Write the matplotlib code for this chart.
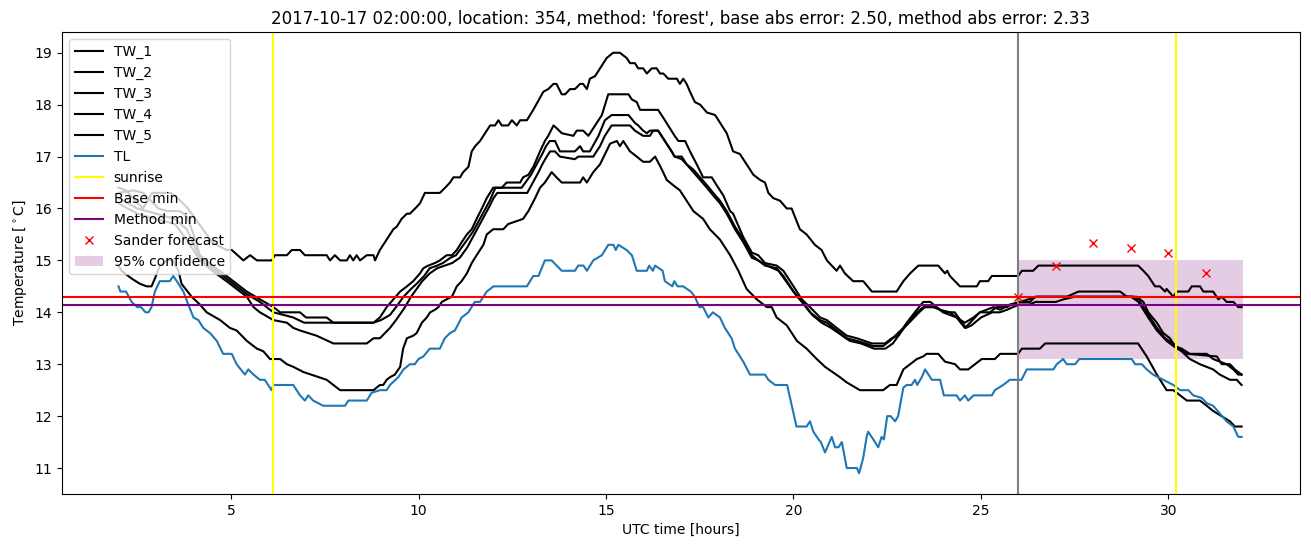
import numpy as np
import matplotlib
matplotlib.use('Agg')
import matplotlib.pyplot as plt

# (hour, temperature) pairs
tw_1 = [(2.0,16.4),(2.2,16.35),(2.45,16.15),(2.65,16.0),(2.9,16.3),(3.4,16.3),(3.65,16.15),(3.85,16.0),
        (4.15,15.7),(4.5,15.35),(4.88,15.2),(5.02,15.2),(5.33,15.0),(5.51,15.1),(5.69,15.0),(6.09,15.0),
        (6.17,15.1),(6.49,15.1),(6.62,15.2),(6.84,15.2),(6.97,15.1),(7.55,15.1),(7.64,15.0),(7.77,15.1),
        (7.91,15.0),(8.09,15.0),(8.17,15.1),(8.26,15.0),(8.35,15.1),(8.44,15.0),(8.62,15.1),(8.8,15.1),
        (8.84,15.0),(8.97,15.2),(9.15,15.4),(9.33,15.6),(9.42,15.65),(9.55,15.8),(9.69,15.9),(9.77,15.9),
        (9.91,16.0),(10.04,16.1),(10.17,16.3),(10.57,16.3),(10.71,16.4),(10.84,16.5),(10.93,16.6),(11.11,16.6),
        (11.19,16.7),(11.33,16.8),(11.42,17.1),(11.51,17.2),(11.64,17.3),(11.82,17.5),(11.91,17.6),(12.04,17.6),
        (12.13,17.7),(12.22,17.6),(12.39,17.6),(12.49,17.7),(12.62,17.6),(12.71,17.7),(12.89,17.7),(13.06,17.9),
        (13.33,18.25),(13.46,18.3),(13.6,18.4),(13.68,18.4),(13.82,18.2),(13.91,18.2),(14.04,18.3),(14.17,18.3),
        (14.31,18.4),(14.39,18.4),(14.49,18.3),(14.57,18.5),(14.71,18.55),(14.84,18.7),(14.93,18.8),(15.02,18.9),
        (15.19,19.0),(15.37,19.0),(15.55,18.9),(15.64,18.8),(15.77,18.8),(15.86,18.7),(15.99,18.7),(16.09,18.6),
        (16.22,18.7),(16.35,18.7),(16.44,18.6),(16.53,18.6),(16.66,18.5),(16.89,18.5),(16.97,18.4),(17.06,18.5),
        (17.15,18.4),(17.24,18.25),(17.37,18.05),(17.51,18.0),(17.69,17.85),(17.91,17.8),(18.22,17.45),(18.39,17.1),
        (18.57,17.05),(18.93,16.65),(19.11,16.55),(19.24,16.5),(19.33,16.3),(19.46,16.2),(19.64,16.15),(19.82,16.0),
        (19.95,16.0),(20.17,15.6),(20.35,15.5),(20.57,15.3),(20.75,15.2),(20.89,15.0),(21.15,14.8),(21.24,14.9),
        (21.37,14.75),(21.59,14.6),(21.86,14.6),(22.09,14.4),(22.75,14.4),(22.93,14.6),(23.11,14.75),(23.33,14.9),
        (23.86,14.9),(24.04,14.75),(24.1,14.8),(24.17,14.7),(24.44,14.5),(24.89,14.5),(24.97,14.6),(25.19,14.6),
        (25.29,14.7),(25.99,14.7),(26.09,14.8),(26.39,14.8),(26.53,14.9),(29.19,14.9),(29.33,14.8),(29.46,14.7),
        (29.64,14.5),(29.77,14.5),(29.91,14.4),(29.95,14.45),(30.13,14.3),(30.22,14.4),(30.53,14.4),(30.62,14.5),
        (30.84,14.5),(30.93,14.4),(31.19,14.4),(31.33,14.25),(31.42,14.3),(31.55,14.2),(31.73,14.2),(31.86,14.1),
        (31.95,14.1)]

tw_2 = [(2.0,16.3),(2.4,16.35),(2.66,16.3),(2.93,16.1),(3.06,16.0),(3.3,15.95),(3.64,15.95),(3.82,15.85),
        (4.0,15.5),(4.17,15.1),(4.5,14.9),(4.88,14.7),(5.15,14.55),(5.42,14.4),(5.77,14.25),(6.13,14.1),
        (6.31,14.0),(6.84,14.0),(7.0,13.9),(7.55,13.9),(7.73,13.8),(8.8,13.8),(8.97,13.9),(9.15,14.1),
        (9.33,14.25),(9.51,14.4),(9.69,14.5),(9.86,14.6),(10.04,14.75),(10.13,14.85),(10.26,14.9),(10.44,14.95),
        (10.57,15.0),(10.75,15.1),(10.89,15.1),(11.02,15.2),(11.15,15.35),(11.29,15.5),(11.42,15.6),(11.55,15.8),
        (11.69,16.0),(11.82,16.2),(11.99,16.4),(12.22,16.4),(12.35,16.5),(12.71,16.5),(12.79,16.6),(12.93,16.65),
        (13.06,16.8),(13.15,16.95),(13.24,17.1),(13.37,17.3),(13.46,17.4),(13.6,17.6),(13.68,17.55),(13.82,17.45),
        (14.13,17.4),(14.22,17.5),(14.39,17.5),(14.53,17.4),(14.71,17.6),(14.89,17.8),(15.06,18.2),(15.6,18.2),
        (15.69,18.1),(15.82,18.05),(15.91,17.9),(16.39,17.9),(16.57,17.7),(16.83,17.4),(16.93,17.3),(17.11,17.3),
        (17.24,17.1),(17.42,16.85),(17.59,16.6),(17.82,16.6),(17.95,16.45),(18.13,16.25),(18.31,15.95),(18.39,15.9),
        (18.66,15.45),(18.89,15.15),(19.06,15.1),(19.24,14.95),(19.55,14.9),(19.73,14.8),(20.0,14.5),(20.22,14.25),
        (20.44,14.1),(20.71,13.9),(20.89,13.85),(21.24,13.65),(21.42,13.55),(21.69,13.5),(22.09,13.4),(22.44,13.4),
        (22.62,13.5),(22.79,13.55),(23.02,13.8),(23.29,14.05),(23.46,14.2),(23.65,14.2),(23.82,14.1),(23.99,14.0),
        (24.35,13.9),(24.57,13.8),(24.8,13.9),(24.97,14.0),(25.33,14.1),(25.51,14.05),(25.77,14.15),(26.04,14.2),
        (26.31,14.2),(26.44,14.3),(27.29,14.3),(27.6,14.4),(28.71,14.4),(28.89,14.3),(29.15,14.3),(29.33,14.2),
        (29.46,14.0),(29.69,13.8),(29.86,13.6),(30.04,13.5),(30.17,13.35),(30.35,13.3),(30.57,13.2),(31.02,13.2),
        (31.19,13.1),(31.55,13.0),(31.73,12.9),(31.86,12.8),(31.95,12.8)]

tw_3 = [(2.0,16.2),(2.5,16.0),(3.0,15.9),(3.5,15.8),(3.82,15.6),(4.17,15.05),(4.5,14.85),(4.88,14.65),
        (5.15,14.5),(5.42,14.35),(5.77,14.2),(6.13,14.0),(6.4,13.95),(6.66,13.9),(6.95,13.8),(8.8,13.8),
        (9.0,13.85),(9.24,13.95),(9.4,14.1),(9.6,14.3),(9.8,14.45),(9.95,14.55),(10.15,14.7),(10.3,14.85),
        (10.5,14.9),(10.65,14.95),(10.85,15.05),(11.0,15.1),(11.1,15.2),(11.3,15.4),(11.45,15.55),(11.6,15.75),
        (11.75,15.95),(11.9,16.15),(12.05,16.4),(12.75,16.4),(12.85,16.5),(13.0,16.65),(13.15,16.85),(13.3,17.05),
        (13.4,17.2),(13.5,17.3),(13.64,17.3),(13.77,17.1),(14.17,17.1),(14.31,17.2),(14.39,17.1),(14.57,17.1),
        (14.8,17.4),(14.97,17.7),(15.15,17.8),(15.6,17.8),(15.77,17.65),(15.86,17.6),(15.99,17.5),(16.09,17.45),
        (16.17,17.5),(16.39,17.5),(16.57,17.3),(16.75,17.1),(16.83,17.0),(17.02,17.0),(17.15,16.85),(17.33,16.75),
        (17.51,16.6),(17.69,16.45),(17.86,16.3),(18.04,16.15),(18.22,15.95),(18.44,15.65),(18.66,15.4),(18.89,15.1),
        (19.06,15.0),(19.24,14.9),(19.55,14.85),(19.73,14.7),(20.0,14.4),(20.22,14.2),(20.44,14.0),(20.71,13.85),
        (20.89,13.8),(21.24,13.6),(21.42,13.5),(21.69,13.45),(22.13,13.35),(22.39,13.35),(22.57,13.45),(22.93,13.7),
        (23.29,14.0),(23.46,14.1),(23.73,14.1),(23.91,14.05),(24.17,14.0),(24.35,13.9),(24.57,13.7),(24.71,13.8),
        (24.97,14.0),(25.24,14.0),(25.41,14.1),(25.69,14.1),(25.82,14.15),(26.04,14.2),(26.5,14.3),(29.06,14.3),
        (29.24,14.2),(29.42,14.0),(29.69,13.7),(29.91,13.5),(30.13,13.4),(30.26,13.3),(30.49,13.2),(31.29,13.15),
        (31.42,13.0),(31.64,13.0),(31.77,12.9),(31.95,12.8)]

tw_4 = [(2.0,16.1),(2.5,15.9),(3.0,15.8),(3.5,15.7),(3.82,15.4),(4.17,15.0),(4.5,14.8),(4.88,14.6),
        (5.15,14.45),(5.42,14.3),(5.6,14.1),(5.77,14.0),(6.13,13.85),(6.49,13.8),(6.66,13.7),(6.84,13.65),
        (7.28,13.55),(7.73,13.4),(8.62,13.4),(8.8,13.5),(8.97,13.5),(9.24,13.7),(9.4,13.85),(9.64,14.1),
        (9.8,14.3),(9.95,14.45),(10.1,14.6),(10.3,14.75),(10.5,14.85),(10.7,14.9),(10.9,14.95),(11.1,15.05),
        (11.3,15.25),(11.45,15.45),(11.6,15.65),(11.75,15.85),(11.9,16.05),(12.0,16.2),(12.1,16.3),(12.9,16.3),
        (13.05,16.5),(13.2,16.7),(13.3,16.85),(13.42,17.0),(13.51,17.1),(13.64,17.1),(13.77,17.0),(14.17,16.95),
        (14.26,17.0),(14.66,17.0),(14.84,17.2),(14.97,17.4),(15.15,17.6),(15.64,17.6),(15.77,17.5),(15.99,17.4),
        (16.17,17.4),(16.26,17.5),(16.39,17.5),(16.57,17.3),(16.75,17.1),(16.83,17.0),(17.02,16.95),(17.15,16.85),
        (17.33,16.7),(17.51,16.55),(17.69,16.4),(17.86,16.25),(18.04,16.1),(18.22,15.9),(18.44,15.6),(18.66,15.35),
        (18.89,15.05),(19.06,15.0),(19.3,14.9),(19.6,14.8),(19.8,14.6),(20.05,14.35),(20.3,14.15),(20.5,13.95),
        (20.75,13.8),(21.0,13.7),(21.3,13.55),(21.5,13.45),(21.8,13.4),(22.15,13.3),(22.45,13.3),(22.65,13.4),
        (22.95,13.7),(23.35,14.0),(23.5,14.1),(23.8,14.1),(24.0,14.0),(24.3,14.0),(24.4,13.9),(24.6,13.7),
        (24.75,13.75),(25.0,13.9),(25.3,14.0),(25.5,14.0),(25.7,14.05),(25.85,14.1),(26.04,14.15),(26.3,14.15),
        (26.45,14.2),(27.0,14.2),(27.2,14.25),(27.5,14.3),(29.0,14.3),(29.2,14.2),(29.46,13.9),(29.69,13.65),
        (29.95,13.45),(30.13,13.35),(30.35,13.25),(30.57,13.1),(30.84,13.0),(31.19,12.9),(31.37,12.8),(31.64,12.7),
        (31.82,12.7),(31.95,12.6)]

tw_5 = [(2.0,14.9),(2.08,14.8),(2.35,14.65),(2.57,14.55),(2.75,14.5),(2.88,14.5),(2.97,14.65),(3.1,14.9),
        (3.3,15.0),(3.45,15.0),(3.6,14.8),(3.68,14.55),(3.95,14.3),(4.17,14.15),(4.35,14.0),(4.71,13.85),
        (4.97,13.7),(5.15,13.65),(5.42,13.45),(5.69,13.3),(5.86,13.25),(6.04,13.1),(6.31,13.1),(6.49,13.0),
        (6.66,12.95),(6.93,12.85),(7.55,12.7),(7.91,12.5),(8.8,12.5),(8.97,12.6),(9.06,12.6),(9.15,12.7),
        (9.24,12.75),(9.37,12.8),(9.51,12.95),(9.59,13.3),(9.69,13.5),(9.86,13.55),(9.95,13.6),(10.09,13.8),
        (10.22,13.9),(10.31,14.0),(10.44,14.05),(10.53,14.1),(10.62,14.2),(10.75,14.25),(10.89,14.3),(11.02,14.5),
        (11.15,14.6),(11.29,14.75),(11.42,14.95),(11.55,15.1),(11.73,15.3),(11.82,15.5),(11.99,15.6),(12.26,15.6),
        (12.39,15.7),(12.79,15.8),(12.93,15.95),(13.11,16.2),(13.24,16.4),(13.37,16.5),(13.55,16.7),(13.68,16.6),
        (13.82,16.5),(14.31,16.5),(14.39,16.6),(14.49,16.5),(14.66,16.7),(14.84,16.85),(15.11,17.25),(15.29,17.3),
        (15.37,17.2),(15.46,17.3),(15.64,17.1),(15.82,17.0),(15.99,16.9),(16.17,16.9),(16.31,17.0),(16.49,16.75),
        (16.62,16.55),(16.79,16.45),(16.97,16.35),(17.15,16.15),(17.33,15.95),(17.59,15.8),(17.77,15.6),(18.04,15.4),
        (18.31,15.1),(18.53,14.8),(18.75,14.45),(19.02,14.25),(19.29,14.1),(19.42,14.1),(19.55,13.9),(19.82,13.75),
        (20.09,13.45),(20.35,13.3),(20.62,13.1),(20.84,12.95),(21.24,12.75),(21.42,12.65),(21.77,12.5),(22.39,12.5),
        (22.57,12.6),(22.75,12.6),(22.93,12.9),(23.11,13.0),(23.29,13.1),(23.46,13.15),(23.55,13.2),(23.86,13.2),
        (24.04,13.05),(24.31,13.0),(24.44,12.9),(24.66,12.9),(24.84,13.0),(25.02,13.1),(25.37,13.1),(25.51,13.2),
        (25.99,13.2),(26.09,13.3),(26.57,13.3),(26.71,13.4),(29.19,13.4),(29.42,13.15),(29.69,12.8),(29.95,12.5),
        (30.13,12.5),(30.49,12.3),(30.84,12.3),(31.02,12.2),(31.19,12.1),(31.64,11.9),(31.77,11.8),(31.95,11.8)]

tl = [(2.0,14.5),(2.05,14.4),(2.2,14.4),(2.35,14.2),(2.5,14.1),(2.6,14.1),(2.72,14.0),(2.8,14.0),
      (2.88,14.1),(2.97,14.4),(3.1,14.6),(3.37,14.6),(3.46,14.7),(3.6,14.55),(3.73,14.4),(3.86,14.15),
      (4.0,13.9),(4.13,13.85),(4.26,13.7),(4.44,13.6),(4.62,13.45),(4.79,13.2),(5.02,13.2),(5.15,13.0),
      (5.37,12.8),(5.46,12.9),(5.6,12.8),(5.77,12.7),(5.9,12.7),(6.08,12.5),(6.13,12.6),(6.66,12.6),
      (6.84,12.4),(6.97,12.3),(7.06,12.4),(7.19,12.3),(7.46,12.2),(8.04,12.2),(8.13,12.3),(8.62,12.3),
      (8.75,12.45),(8.97,12.5),(9.15,12.5),(9.24,12.6),(9.46,12.75),(9.6,12.9),(9.77,13.0),(9.9,13.0),
      (10.0,13.1),(10.13,13.15),(10.3,13.3),(10.57,13.3),(10.7,13.5),(10.84,13.6),(10.97,13.65),(11.15,13.9),
      (11.33,14.0),(11.5,14.2),(11.64,14.2),(11.82,14.4),(12.0,14.5),(12.89,14.5),(13.06,14.7),(13.2,14.7),
      (13.37,15.0),(13.55,15.0),(13.82,14.8),(14.17,14.8),(14.26,14.9),(14.4,14.9),(14.49,14.8),(14.66,15.0),
      (14.89,15.1),(15.06,15.3),(15.2,15.3),(15.26,15.2),(15.33,15.3),(15.55,15.2),(15.69,15.1),(15.82,14.8),
      (16.09,14.8),(16.15,14.9),(16.25,14.8),(16.31,14.9),(16.51,14.8),(16.57,14.6),(16.77,14.5),(16.82,14.6),
      (16.91,14.5),(17.06,14.5),(17.26,14.4),(17.37,14.3),(17.49,14.1),(17.59,14.1),(17.73,13.9),(17.85,14.0),
      (18.04,13.9),(18.17,13.7),(18.35,13.5),(18.44,13.3),(18.66,13.05),(18.84,12.8),(19.24,12.8),(19.33,12.7),
      (19.51,12.6),(19.83,12.6),(20.08,11.8),(20.35,11.8),(20.44,11.9),(20.53,11.7),(20.67,11.55),(20.73,11.5),
      (20.84,11.3),(21.02,11.6),(21.11,11.4),(21.2,11.4),(21.29,11.5),(21.42,11.0),(21.69,11.0),(21.75,10.9),
      (21.86,11.2),(21.95,11.6),(21.99,11.7),(22.13,11.55),(22.26,11.4),(22.35,11.6),(22.41,11.55),(22.5,12.0),
      (22.59,12.0),(22.71,11.9),(22.79,12.0),(22.93,12.55),(23.02,12.6),(23.15,12.6),(23.24,12.7),(23.3,12.6),
      (23.42,12.75),(23.51,12.9),(23.69,12.7),(23.91,12.7),(24.01,12.4),(24.35,12.4),(24.44,12.3),(24.57,12.4),
      (24.66,12.3),(24.8,12.4),(25.29,12.4),(25.37,12.5),(25.59,12.6),(25.77,12.7),(26.08,12.7),(26.22,12.9),
      (26.93,12.9),(27.02,13.0),(27.19,13.1),(27.29,13.0),(27.51,13.0),(27.62,13.1),(29.02,13.1),(29.11,13.0),
      (29.29,13.0),(29.42,12.9),(29.59,12.8),(29.86,12.7),(30.13,12.6),(30.31,12.5),(30.53,12.5),(30.66,12.4),
      (30.89,12.35),(31.02,12.25),(31.19,12.2),(31.37,12.05),(31.55,11.9),(31.73,11.8),(31.86,11.6),(31.95,11.6)]

sunrise_hours = [6.13, 30.19]
forecast_start = 26.0
base_min = 14.3
method_min = 14.15
sander_hours = [26, 27, 28, 29, 30, 31]
sander_temp = [14.3, 14.9, 15.33, 15.24, 15.15, 14.76]
conf_hours = [26, 32]
conf_low = 13.1
conf_high = 15.0

fig = plt.figure(figsize=(13.11, 5.47), dpi=100)
ax = fig.add_axes([0.0475, 0.0969, 0.9439, 0.8446])

for name, series in [('TW_1', tw_1), ('TW_2', tw_2), ('TW_3', tw_3), ('TW_4', tw_4), ('TW_5', tw_5)]:
    h, v = np.array(series).T
    ax.plot(h, v, color='black', label=name)

h, v = np.array(tl).T
ax.plot(h, v, color='tab:blue', label='TL')

ax.axvline(forecast_start, color='gray')
ax.axvline(sunrise_hours[0], color='yellow', label='sunrise')
ax.axvline(sunrise_hours[1], color='yellow')
ax.axhline(base_min, color='red', label='Base min')
ax.axhline(method_min, color='purple', label='Method min')
ax.plot(sander_hours, sander_temp, 'x', color='red', linestyle='none', label='Sander forecast')
ax.fill_between(conf_hours, conf_low, conf_high, color='purple', alpha=0.2, linewidth=0,
                label='95% confidence')

ax.set_xlim(0.5, 33.5)
ax.set_ylim(10.5, 19.4)
ax.set_xlabel('UTC time [hours]')
ax.set_ylabel('Temperature [$^\\circ$C]')
ax.set_title("2017-10-17 02:00:00, location: 354, method: 'forest', base abs error: 2.50, method abs error: 2.33")
ax.legend(loc='upper left')

fig.savefig('out.png', dpi=100)
